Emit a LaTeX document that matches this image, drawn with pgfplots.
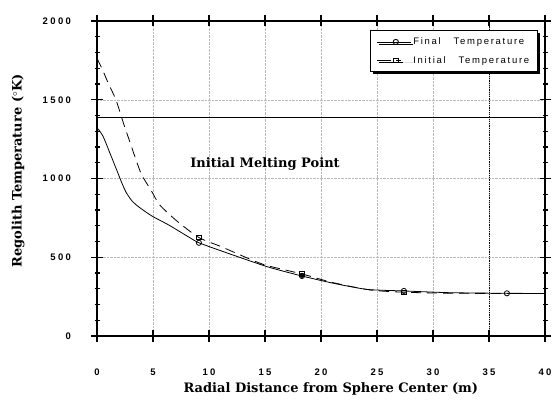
\documentclass[border=0pt]{standalone}
\usepackage{fontspec}
\setmainfont{DejaVu Serif}
\newfontfamily\sansf[LetterSpace=18]{Liberation Sans}
\newfontfamily\tickf[LetterSpace=25]{Liberation Sans}
\usepackage{pgfplots}
\pgfplotsset{compat=1.18}
\usetikzlibrary{shadows}
\begin{document}
\begin{tikzpicture}
\begin{axis}[
  scale only axis, width=448pt, height=315pt,
  xmin=0, xmax=40, ymin=0, ymax=2000,
  xtick={0,5,...,40}, ytick={0,500,...,2000},
  minor y tick num=4,
  tick align=center,
  major tick length=11pt, minor tick length=5pt,
  major tick style={black, line width=1.2pt},
  minor tick style={black, line width=1.1pt},
  axis line style={line width=1.4pt},
  /pgf/number format/assume math mode=true,
  /pgf/number format/1000 sep={},
  ticklabel style={font=\tickf\bfseries\fontsize{9.5}{11}\selectfont},
  xticklabel style={yshift=-24pt},
  yticklabel style={xshift=-17pt},
  grid=major, grid style={densely dotted, gray!55, thin},
  xlabel={\bfseries Radial Distance from Sphere Center (m)},
  ylabel={\bfseries Regolith Temperature ($^{\circ}$K)},
  label style={font=\fontsize{13}{15}\selectfont},
  xlabel style={at={(0.522,-0.168)}, anchor=center},
  ylabel style={at={(-0.176,0.524)}, anchor=center},
  legend style={at={(0.984,0.971)}, anchor=north east, draw=black, line width=1.3pt,
    font=\sansf\fontsize{9.5}{10}\selectfont, fill=white,
    drop shadow={shadow xshift=2.5pt, shadow yshift=-2.5pt, fill=black, opacity=1},
    row sep=6pt, inner xsep=6pt, inner ysep=5pt,
    /tikz/every even column/.append style={column sep=6pt}},
  legend image code/.code={\draw[mark repeat=2, mark phase=2, #1] plot coordinates {(0pt,0pt)(19pt,0pt)(34pt,0pt)};},
  legend cell align=left,
  clip=false,
]
\addlegendimage{black, line width=0.9pt, mark=o, mark size=2.6pt, mark options={solid, fill=white}}
\addlegendentry{Final\ \ \ Temperature}
\addlegendimage{black, line width=0.9pt, dash pattern=on 14pt off 5pt on 5pt off 20pt, mark=square, mark size=2.4pt, mark options={solid, fill=white}}
\addlegendentry{Initial\ \ \ Temperature}
\addplot[black, line width=0.8pt, smooth, tension=0.4, forget plot]
coordinates {(0.1,1315)(0.56,1265)(1.16,1160)(1.76,1054)(2.2,975)(2.6,912)(3.1,860)(3.7,821)(4.9,762)(6.4,705)(8.15,630)(9.1,592)(11.3,535)(15.2,440)(18.3,381)(21.1,335)(24.1,296)(27.4,286)(31.5,275)(36.6,271)(40,270)};
\addplot[black, only marks, mark=o, mark size=2.6pt, mark options={line width=0.8pt, fill=white}, forget plot]
coordinates {(9.1,592)(18.3,381)(27.4,286)(36.6,271)};
\addplot[black, line width=0.8pt, dash pattern=on 10pt off 6pt, smooth, tension=0.4, forget plot]
coordinates {(0,1763)(0.5,1689)(1,1606)(1.7,1498)(2.35,1354)(2.8,1260)(3.54,1107)(4.0,1022)(4.9,916)(5.6,832)(7.2,726)(9.1,625)(11.1,567)(12.8,514)(15,451)(18.3,394)(21,340)(24.4,292)(27.4,278)(31,272)(36.6,270)(40,270)};
\addplot[black, only marks, mark=square, mark size=2.3pt, mark options={line width=0.8pt, fill=none}, forget plot]
coordinates {(9.1,625)(18.3,394)(27.4,278)};
\addplot[black, fill=black, only marks, mark=*, mark size=2.3pt, forget plot] coordinates {(18.3,385)};
\addplot[black, thin, forget plot] coordinates {(0,1388)(40,1388)};
\addplot[black, densely dotted, line width=0.8pt, forget plot] coordinates {(35,0)(35,2000)};
\node[font=\bfseries\fontsize{13}{15}\selectfont] at (axis cs:15.0,1090) {Initial Melting Point};
\end{axis}
\path ([xshift=-97pt,yshift=-64pt]current axis.south west) rectangle ([xshift=10pt,yshift=21pt]current axis.north east);
\end{tikzpicture}
\end{document}
